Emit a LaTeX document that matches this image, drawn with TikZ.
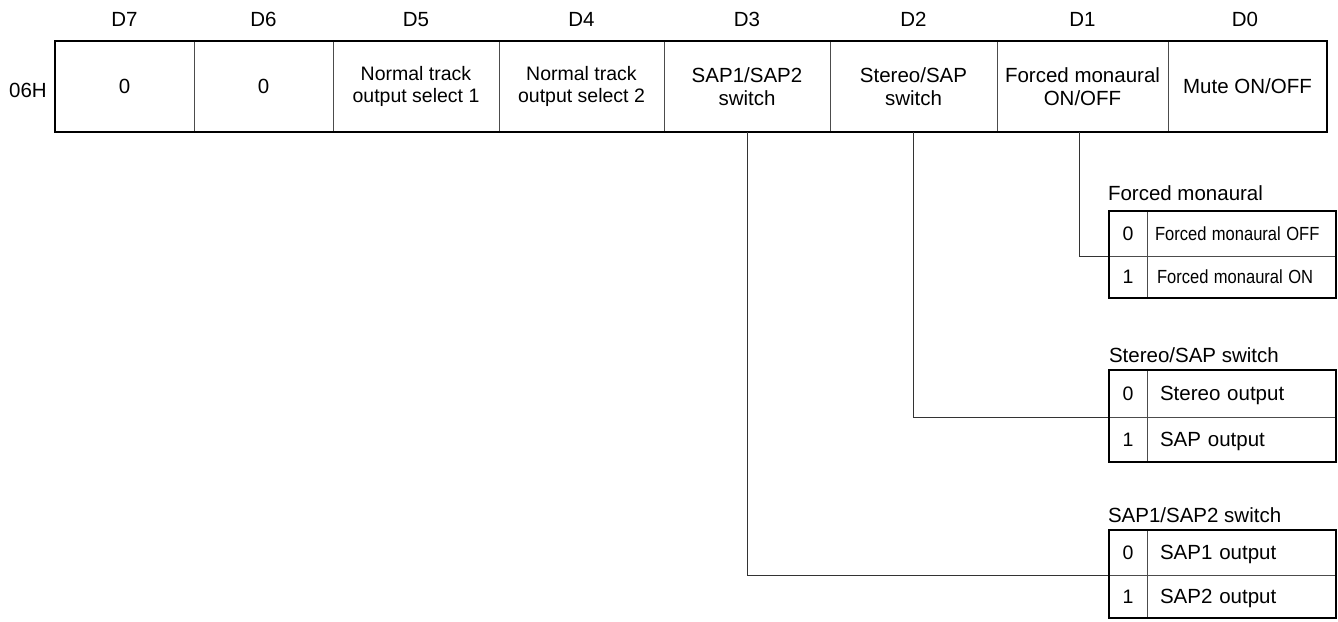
\documentclass[tikz,border=0pt]{standalone}
\usepackage{fontspec}
\setmainfont{Liberation Sans}
\begin{document}
\begin{tikzpicture}[x=1pt,y=-1pt,
  every node/.style={inner sep=0pt, outer sep=0pt},
  thin line/.style={draw=black!70, line width=0.9pt},
  thick border/.style={draw=black, line width=2.7pt},
  conn/.style={draw=black!80, line width=0.9pt},
  cell/.style={thin line, rectangle, minimum height=91pt, align=center, font=\fontsize{20.5}{23}\selectfont},
  hdr/.style={anchor=base, font=\fontsize{20.5}{23}\selectfont},
  ttl/.style={anchor=base west, font=\fontsize{20.5}{23}\selectfont},
  tnum/.style={thin line, rectangle, minimum width=38pt, font=\fontsize{19.5}{22}\selectfont},
  ttxt/.style={thin line, rectangle, minimum width=189pt, text depth=0pt, align=left, font=\fontsize{20.5}{23}\selectfont},
]
\useasboundingbox (0,0) rectangle (1338,621);

% header labels
\node[hdr] (h7) at (124.5,26) {D7};
\node[hdr] (h6) at (263.5,26) {D6};
\node[hdr] (h5) at (416,26) {D5};
\node[hdr] (h4) at (581.5,26) {D4};
\node[hdr] (h3) at (747,26) {D3};
\node[hdr] (h2) at (913.5,26) {D2};
\node[hdr] (h1) at (1082.5,26) {D1};
\node[hdr] (h0) at (1245,26) {D0};

\node[hdr] (reg) at (28,97) {06H};

% register cells
\node[cell, minimum width=139pt] (d7) at (124.5,86.5) {\raisebox{-3pt}{0}};
\node[cell, minimum width=139pt] (d6) at (263.5,86.5) {\raisebox{-3pt}{0}};
\node[cell, minimum width=166pt, font=\fontsize{19.5}{22}\selectfont] (d5) at (416,86.5) {Normal track\\output select 1};
\node[cell, minimum width=165pt, font=\fontsize{19.5}{22}\selectfont] (d4) at (581.5,86.5) {Normal track\\output select 2};
\node[cell, minimum width=166pt] (d3) at (747,86.5) {SAP1/SAP2\\switch};
\node[cell, minimum width=167pt] (d2) at (913.5,86.5) {Stereo/SAP\\switch};
\node[cell, minimum width=171pt] (d1) at (1082.5,86.5) {Forced monaural\\ON/OFF};
\node[cell, minimum width=159pt] (d0) at (1247.5,86.5) {\raisebox{-2pt}{Mute ON/OFF}};
\draw[thick border] (d7.north west) rectangle (d0.south east);

% table titles
\node[ttl] (ft) at (1108,200) {Forced monaural};
\node[ttl] (st) at (1109,362) {Stereo/SAP switch};
\node[ttl] (pt) at (1108,522) {SAP1/SAP2 switch};

% Forced monaural table
\node[tnum, minimum height=45pt] (f0n) at (1128,233.5) {0};
\node[ttxt, minimum height=45pt, inner xsep=8pt, text width=173pt, font=\fontsize{19}{22}\selectfont] (f0t) at (1241.5,233.5) {\scalebox{0.87}[1]{Forced monaural OFF}};
\node[tnum, minimum height=42pt] (f1n) at (1128,277) {1};
\node[ttxt, minimum height=42pt, inner xsep=10pt, text width=169pt, font=\fontsize{19}{22}\selectfont] (f1t) at (1241.5,277) {\scalebox{0.87}[1]{Forced monaural ON}};

% Stereo/SAP table
\node[tnum, minimum height=47pt] (s0n) at (1128,393.5) {0};
\node[ttxt, minimum height=47pt, inner xsep=13pt, text width=163pt] (s0t) at (1241.5,393.5) {Stereo output};
\node[tnum, minimum height=45pt] (s1n) at (1128,439.5) {1};
\node[ttxt, minimum height=45pt, inner xsep=13pt, text width=163pt] (s1t) at (1241.5,439.5) {SAP output};

% SAP1/SAP2 table
\node[tnum, minimum height=45pt] (p0n) at (1128,552.5) {0};
\node[ttxt, minimum height=45pt, inner xsep=13pt, text width=163pt] (p0t) at (1241.5,552.5) {SAP1 output};
\node[tnum, minimum height=43pt] (p1n) at (1128,596.5) {1};
\node[ttxt, minimum height=43pt, inner xsep=13pt, text width=163pt] (p1t) at (1241.5,596.5) {SAP2 output};

% connectors
\draw[conn] ([xshift=-3.5pt]d1.south) |- (f0n.south west);
\draw[conn] (d2.south) |- (s0n.south west);
\draw[conn] (d3.south) |- (p0n.south west);

% table borders
\draw[thick border] (f0n.north west) rectangle (f1t.south east);
\draw[thick border] (s0n.north west) rectangle (s1t.south east);
\draw[thick border] (p0n.north west) rectangle (p1t.south east);
\end{tikzpicture}
\end{document}
